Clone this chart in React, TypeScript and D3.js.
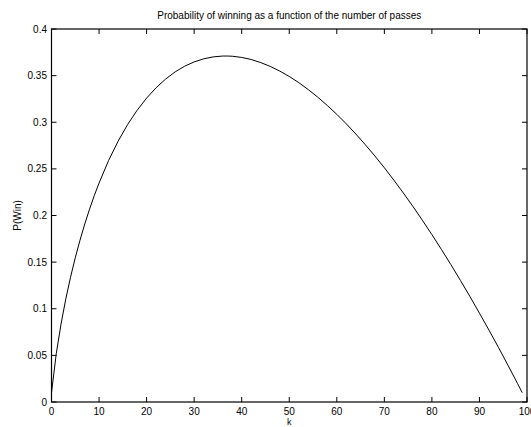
import React from "react";
import * as d3 from "d3";

// number of passes k and the read-off probability of winning
const passes = [0, 1, 2, 3, 4, 5, 6, 7, 8, 9, 10, 12, 14, 16, 18, 20, 22, 24, 26, 28, 30, 32, 34, 36, 37, 38, 40, 42, 44, 46, 48, 50, 52, 54, 56, 58, 60, 62, 64, 66, 68, 70, 72, 74, 76, 78, 80, 82, 84, 86, 88, 90, 92, 94, 96, 98, 99];
const pWin = [0.01, 0.0518, 0.0835, 0.1103, 0.1338, 0.1547, 0.1736, 0.1909, 0.2068, 0.2214, 0.2348, 0.2589, 0.2796, 0.2975, 0.3128, 0.3259, 0.337, 0.3463, 0.354, 0.3601, 0.3647, 0.368, 0.3701, 0.371, 0.371, 0.3708, 0.3695, 0.3673, 0.364, 0.3599, 0.3549, 0.3491, 0.3425, 0.335, 0.3269, 0.318, 0.3085, 0.2983, 0.2874, 0.2759, 0.2639, 0.2512, 0.2379, 0.2241, 0.2098, 0.1949, 0.1795, 0.1636, 0.1473, 0.1304, 0.1131, 0.0953, 0.0771, 0.0585, 0.0394, 0.0199, 0.01];

const xTicks = [0, 10, 20, 30, 40, 50, 60, 70, 80, 90, 100];
const yTicks = [0, 0.05, 0.1, 0.15, 0.2, 0.25, 0.3, 0.35, 0.4];

const title = "Probability of winning as a function of the number of passes";
const xLabel = "k";
const yLabel = "P(Win)";

const W = 531;
const H = 427;
const left = 51.5, right = 527, top = 29, bottom = 402;
const font = "'Liberation Sans', Arial, Helvetica, sans-serif";
const tickLen = 5;

export default function App() {
  const x = d3.scaleLinear().domain([0, 100]).range([left, right]);
  const y = d3.scaleLinear().domain([0, 0.4]).range([bottom, top]);

  const pts: [number, number][] = passes.map((k, i) => [k, pWin[i]]);
  const line = d3.line<[number, number]>()
    .x(d => x(d[0]))
    .y(d => y(d[1]));

  return (
    <svg width={W} height={H} style={{ position: "absolute", left: 0, top: 0, background: "#fff" }}
      fontFamily={font}>
      <rect x={0} y={0} width={W} height={H} fill="#fff" />
      <text x={(left + right) / 2} y={19} fontSize={10} textAnchor="middle" fill="#000">{title}</text>

      {xTicks.map(t => (
        <g key={"x" + t}>
          <line x1={x(t)} x2={x(t)} y1={bottom} y2={bottom - tickLen} stroke="#000" />
          <line x1={x(t)} x2={x(t)} y1={top} y2={top + tickLen} stroke="#000" />
          <text x={x(t)} y={bottom + 13} fontSize={10} textAnchor="middle" fill="#000">{t}</text>
        </g>
      ))}
      {yTicks.map(t => (
        <g key={"y" + t}>
          <line x1={left} x2={left + tickLen} y1={y(t)} y2={y(t)} stroke="#000" />
          <line x1={right} x2={right - tickLen} y1={y(t)} y2={y(t)} stroke="#000" />
          <text x={left - 4.5} y={y(t) + 3.5} fontSize={10} textAnchor="end" fill="#000">{t}</text>
        </g>
      ))}

      <path d={line(pts) ?? ""} fill="none" stroke="#000" strokeWidth={1} />

      <rect x={left} y={top} width={right - left} height={bottom - top} fill="none" stroke="#000" strokeWidth={1.2} />

      <text x={(left + right) / 2} y={425} fontSize={9} textAnchor="middle" fill="#000">{xLabel}</text>
      <text transform={`translate(21, ${(top + bottom) / 2}) rotate(-90)`} fontSize={10} textAnchor="middle" fill="#000">{yLabel}</text>
    </svg>
  );
}
